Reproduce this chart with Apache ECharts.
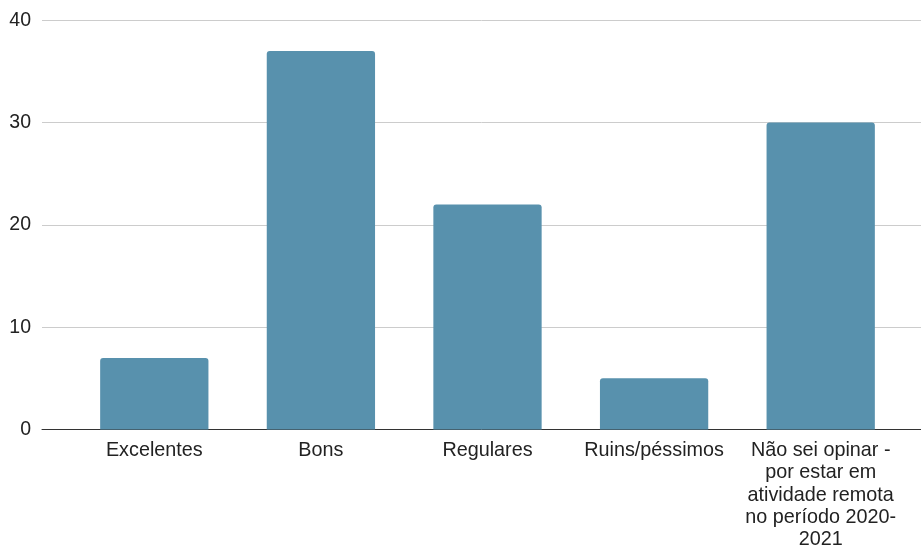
<!DOCTYPE html>
<html>
<head>
<meta charset="utf-8">
<script src="https://cdn.jsdelivr.net/npm/echarts@6/dist/echarts.min.js"></script>
<style>
html,body{margin:0;padding:0;background:#fff;}
#chart{width:921px;height:550px;}
</style>
</head>
<body>
<div id="chart"></div>
<script>
const categories = [
  "Excelentes",
  "Bons",
  "Regulares",
  "Ruins/péssimos",
  "Não sei opinar -\npor estar em\natividade remota\nno período 2020-\n2021"
];
const values = [7, 37, 22, 5, 30];
const yTicks = [0, 10, 20, 30, 40];

const chart = echarts.init(document.getElementById('chart'), null, {renderer: 'canvas'});
const font = '"Liberation Sans", Arial, sans-serif';
chart.setOption({
  animation: false,
  backgroundColor: '#ffffff',
  grid: [
    {left: 42, right: 0, top: 20.3, bottom: 120.5, containLabel: false, outerBoundsMode: 'none'},
    {left: 71, right: 17, top: 20.3, bottom: 120.5, containLabel: false, outerBoundsMode: 'none'}
  ],
  xAxis: [
    {
      gridIndex: 0, type: 'value', min: 0, max: 1,
      axisLabel: {show: false}, axisTick: {show: false}, splitLine: {show: false},
      axisLine: {show: true, lineStyle: {color: '#333333', width: 1}}
    },
    {
      gridIndex: 1, type: 'category', data: categories,
      axisLine: {show: false}, axisTick: {show: false},
      axisLabel: {
        interval: 0, margin: 10, color: '#222222', fontSize: 19.8, lineHeight: 22.3,
        fontFamily: font, align: 'center'
      }
    }
  ],
  yAxis: [
    {
      gridIndex: 0, type: 'value', min: yTicks[0], max: yTicks[yTicks.length - 1], interval: 10,
      axisLine: {show: false}, axisTick: {show: false},
      axisLabel: {margin: 11, color: '#222222', fontSize: 19.5, fontFamily: font},
      splitLine: {show: true, lineStyle: {color: '#cccccc', width: 1}}
    },
    {
      gridIndex: 1, type: 'value', min: yTicks[0], max: yTicks[yTicks.length - 1], interval: 10,
      show: false, splitLine: {show: false}
    }
  ],
  series: [{
    type: 'bar',
    xAxisIndex: 1, yAxisIndex: 1,
    data: values,
    barWidth: '65%',
    itemStyle: {color: '#5891ad', borderRadius: [3, 3, 0, 0]}
  }]
});
</script>
</body>
</html>
